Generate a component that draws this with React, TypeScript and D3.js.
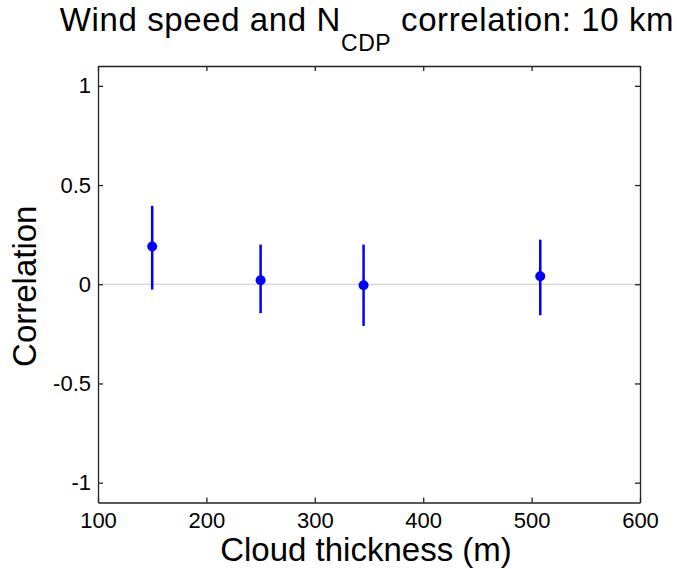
import { useEffect, useRef } from "react";
import * as d3 from "d3";

const thickness = [150, 250, 345, 508];
const correlation = [0.19, 0.02, -0.005, 0.04];
const errLow = [-0.027, -0.146, -0.21, -0.156];
const errHigh = [0.395, 0.2, 0.2, 0.225];
const xTicks = [100, 200, 300, 400, 500, 600];
const yTicks = [-1, -0.5, 0, 0.5, 1];

function renderChart(element: SVGSVGElement) {
  const svg = d3.select(element);
  svg.selectAll("*").remove();
  const left = 98, right = 640, top = 66, bottom = 502.5;
  const font = "Liberation Sans, Arial, sans-serif";

  const x = d3.scaleLinear().domain([100, 600]).range([left, right]);
  const y = d3.scaleLinear().domain([-1.1, 1.1]).range([bottom, top]);

  // zero line
  svg.append("line")
    .attr("x1", left).attr("x2", right)
    .attr("y1", y(0)).attr("y2", y(0))
    .attr("stroke", "#c8c8c8").attr("stroke-width", 1.2);

  // axes with inward ticks
  const fmt = (d: any) => String(d);
  const bottomAxis = svg.append("g")
    .attr("transform", `translate(0,${bottom})`)
    .call(d3.axisBottom(x).tickValues(xTicks).tickSizeInner(-5).tickSizeOuter(0).tickPadding(10).tickFormat(fmt));
  const leftAxis = svg.append("g")
    .attr("transform", `translate(${left},0)`)
    .call(d3.axisLeft(y).tickValues(yTicks).tickSizeInner(-5).tickSizeOuter(0).tickPadding(7).tickFormat(fmt));
  svg.append("g")
    .attr("transform", `translate(0,${top})`)
    .call(d3.axisTop(x).tickValues(xTicks).tickSizeInner(-5).tickSizeOuter(0).tickFormat(() => ""));
  svg.append("g")
    .attr("transform", `translate(${right},0)`)
    .call(d3.axisRight(y).tickValues(yTicks).tickSizeInner(-5).tickSizeOuter(0).tickFormat(() => ""));

  svg.selectAll(".domain").attr("stroke", "#222").attr("stroke-width", 1.3);
  svg.selectAll(".tick line").attr("stroke", "#222").attr("stroke-width", 1.3);
  [bottomAxis, leftAxis].forEach((g) =>
    g.selectAll("text").attr("font-family", font).attr("font-size", 22).attr("fill", "#000")
  );

  // error bars
  svg.append("g")
    .selectAll("line")
    .data(thickness)
    .join("line")
    .attr("x1", (d) => x(d)).attr("x2", (d) => x(d))
    .attr("y1", (_, i) => y(errLow[i])).attr("y2", (_, i) => y(errHigh[i]))
    .attr("stroke", "#0000ff").attr("stroke-width", 2.5);

  svg.append("g")
    .selectAll("circle")
    .data(thickness)
    .join("circle")
    .attr("cx", (d) => x(d))
    .attr("cy", (_, i) => y(correlation[i]))
    .attr("r", 5)
    .attr("fill", "#0000ff");

  // title
  const title = svg.append("text")
    .attr("x", 367).attr("y", 31)
    .attr("text-anchor", "middle")
    .attr("letter-spacing", 0.6)
    .attr("font-family", font).attr("font-size", 33).attr("fill", "#000");
  title.append("tspan").text("Wind speed and N");
  title.append("tspan").attr("dy", 20).attr("font-size", 23).text("CDP");
  title.append("tspan").attr("dy", -20).text(" correlation: 10 km");

  svg.append("text")
    .attr("x", 366).attr("y", 561)
    .attr("text-anchor", "middle")
    .attr("font-family", font).attr("font-size", 33).attr("fill", "#000")
    .text("Cloud thickness (m)");

  svg.append("text")
    .attr("transform", `translate(36,${(top + bottom) / 2 + 2}) rotate(-90)`)
    .attr("text-anchor", "middle")
    .attr("font-family", font).attr("font-size", 33).attr("fill", "#000")
    .text("Correlation");
}

export default function App() {
  const ref = useRef<SVGSVGElement>(null);
  useEffect(() => {
    if (ref.current) renderChart(ref.current);
  }, []);
  return (
    <svg
      ref={ref}
      width={677}
      height={569}
      style={{ position: "absolute", left: 0, top: 0, background: "#fff" }}
    />
  );
}
